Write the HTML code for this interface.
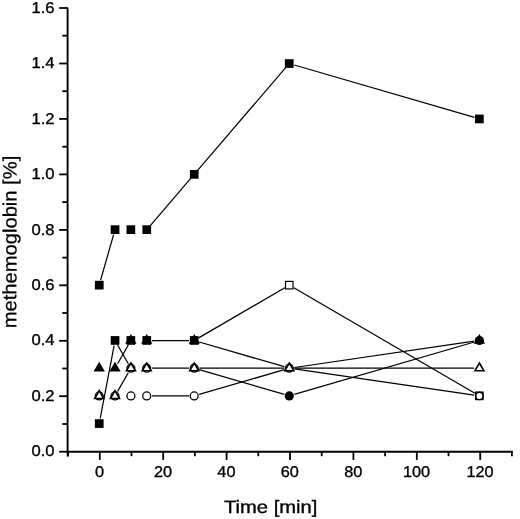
<!DOCTYPE html><html><head><meta charset="utf-8"><title>methemoglobin</title><style>html,body{margin:0;padding:0;background:#fff}body{width:520px;height:519px;overflow:hidden}</style></head><body>
<svg width="520" height="519" viewBox="0 0 520 519" style="display:block">
<rect width="520" height="519" fill="#fff"/>
<g stroke="#000" stroke-width="1.9" fill="none" stroke-linecap="butt">
<path d="M67.6 7.4 V456.6"/>
<path d="M66.7 451.7 H512.8"/>
</g>
<g stroke="#000" stroke-width="1.8" fill="none">
<path d="M59.2 451.7 H67.5"/>
<path d="M62.3 424.0 H67.5"/>
<path d="M59.2 396.2 H67.5"/>
<path d="M62.3 368.5 H67.5"/>
<path d="M59.2 340.8 H67.5"/>
<path d="M62.3 313.0 H67.5"/>
<path d="M59.2 285.3 H67.5"/>
<path d="M62.3 257.6 H67.5"/>
<path d="M59.2 229.9 H67.5"/>
<path d="M62.3 202.1 H67.5"/>
<path d="M59.2 174.4 H67.5"/>
<path d="M62.3 146.7 H67.5"/>
<path d="M59.2 118.9 H67.5"/>
<path d="M62.3 91.2 H67.5"/>
<path d="M59.2 63.5 H67.5"/>
<path d="M62.3 35.7 H67.5"/>
<path d="M59.2 8.0 H67.5"/>
<path d="M68.1 451.7 V456.2"/>
<path d="M99.8 451.7 V459.9"/>
<path d="M131.5 451.7 V456.2"/>
<path d="M163.2 451.7 V459.9"/>
<path d="M194.9 451.7 V456.2"/>
<path d="M226.6 451.7 V459.9"/>
<path d="M258.3 451.7 V456.2"/>
<path d="M290.0 451.7 V459.9"/>
<path d="M321.7 451.7 V456.2"/>
<path d="M353.4 451.7 V459.9"/>
<path d="M385.1 451.7 V456.2"/>
<path d="M416.8 451.7 V459.9"/>
<path d="M448.5 451.7 V456.2"/>
<path d="M480.2 451.7 V459.9"/>
<path d="M511.9 451.7 V456.2"/>
</g>
<g text-rendering="geometricPrecision" font-family="Liberation Sans, Arial, Helvetica, sans-serif" font-size="15.6" fill="#000" stroke="#000" stroke-width="0.35">
<text x="54.6" y="456.3" text-anchor="end" textLength="23.1" lengthAdjust="spacingAndGlyphs">0.0</text>
<text x="54.6" y="400.8" text-anchor="end" textLength="23.1" lengthAdjust="spacingAndGlyphs">0.2</text>
<text x="54.6" y="345.4" text-anchor="end" textLength="23.1" lengthAdjust="spacingAndGlyphs">0.4</text>
<text x="54.6" y="289.9" text-anchor="end" textLength="23.1" lengthAdjust="spacingAndGlyphs">0.6</text>
<text x="54.6" y="234.5" text-anchor="end" textLength="23.1" lengthAdjust="spacingAndGlyphs">0.8</text>
<text x="54.6" y="179.0" text-anchor="end" textLength="23.1" lengthAdjust="spacingAndGlyphs">1.0</text>
<text x="54.6" y="123.5" text-anchor="end" textLength="23.1" lengthAdjust="spacingAndGlyphs">1.2</text>
<text x="54.6" y="68.1" text-anchor="end" textLength="23.1" lengthAdjust="spacingAndGlyphs">1.4</text>
<text x="54.6" y="12.6" text-anchor="end" textLength="23.1" lengthAdjust="spacingAndGlyphs">1.6</text>
<text x="99.6" y="476.8" text-anchor="middle" textLength="9.1" lengthAdjust="spacingAndGlyphs">0</text>
<text x="163.0" y="476.8" text-anchor="middle" textLength="18.15" lengthAdjust="spacingAndGlyphs">20</text>
<text x="226.4" y="476.8" text-anchor="middle" textLength="18.15" lengthAdjust="spacingAndGlyphs">40</text>
<text x="289.8" y="476.8" text-anchor="middle" textLength="18.15" lengthAdjust="spacingAndGlyphs">60</text>
<text x="353.2" y="476.8" text-anchor="middle" textLength="18.15" lengthAdjust="spacingAndGlyphs">80</text>
<text x="416.6" y="476.8" text-anchor="middle" textLength="27.2" lengthAdjust="spacingAndGlyphs">100</text>
<text x="480.0" y="476.8" text-anchor="middle" textLength="27.2" lengthAdjust="spacingAndGlyphs">120</text>
</g>
<g text-rendering="geometricPrecision" font-family="Liberation Sans, Arial, Helvetica, sans-serif" fill="#000" stroke="#000" stroke-width="0.35">
<text x="270.7" y="513.4" font-size="17.9" text-anchor="middle" textLength="93.4" lengthAdjust="spacingAndGlyphs">Time [min]</text>
<text transform="translate(16.4 242) rotate(-89.97)" font-size="19.3" stroke-width="0.25" text-anchor="middle" textLength="172.5" lengthAdjust="spacingAndGlyphs">methemoglobin [%]</text>
</g>
<g stroke="#000" stroke-width="1.25" fill="none">
<path d="M100.6 280.1 L113.6 234.7"/>
<path d="M150.1 225.8 L190.9 178.2"/>
<path d="M197.6 170.4 L285.9 67.4"/>
<path d="M294.3 65.0 L474.4 117.4"/>
<path d="M100.2 418.5 L114.1 345.6"/>
<path d="M117.6 345.0 L128.3 363.7"/>
<path d="M117.6 363.7 L128.3 345.0"/>
<path d="M117.6 391.4 L128.3 372.7"/>
<path d="M151.9 340.5 L189.0 340.5"/>
<path d="M151.9 368.2 L189.0 368.2"/>
<path d="M151.9 395.9 L189.0 395.9"/>
<path d="M198.7 337.9 L284.8 287.7"/>
<path d="M199.2 342.0 L284.3 366.7"/>
<path d="M199.4 368.2 L284.1 368.2"/>
<path d="M199.2 369.7 L284.3 394.4"/>
<path d="M199.2 394.4 L284.3 369.7"/>
<path d="M293.8 287.7 L474.9 393.3"/>
<path d="M294.4 367.5 L474.2 341.2"/>
<path d="M294.5 368.2 L474.2 368.2"/>
<path d="M294.4 368.9 L474.2 395.2"/>
<path d="M294.3 394.4 L474.4 342.0"/>
</g>
<rect x="94.9" y="280.8" width="8.7" height="8.7" fill="#000"/>
<rect x="110.7" y="225.3" width="8.7" height="8.7" fill="#000"/>
<rect x="126.5" y="225.3" width="8.7" height="8.7" fill="#000"/>
<rect x="142.4" y="225.3" width="8.7" height="8.7" fill="#000"/>
<rect x="189.9" y="170.0" width="8.7" height="8.7" fill="#000"/>
<rect x="284.9" y="59.2" width="8.7" height="8.7" fill="#000"/>
<rect x="475.0" y="114.6" width="8.7" height="8.7" fill="#000"/>
<rect x="94.9" y="419.2" width="8.7" height="8.7" fill="#000"/>
<rect x="110.7" y="336.1" width="8.7" height="8.7" fill="#000"/>
<rect x="126.5" y="336.1" width="8.7" height="8.7" fill="#000"/>
<rect x="142.4" y="336.1" width="8.7" height="8.7" fill="#000"/>
<rect x="189.9" y="336.1" width="8.7" height="8.7" fill="#000"/>
<path d="M130.9 334.0 L136.5 343.8 L125.2 343.8 Z" fill="#000"/>
<path d="M146.7 334.0 L152.4 343.8 L141.1 343.8 Z" fill="#000"/>
<path d="M194.2 334.0 L199.9 343.8 L188.6 343.8 Z" fill="#000"/>
<path d="M99.2 361.7 L104.9 371.5 L93.5 371.5 Z" fill="#000"/>
<path d="M115.0 361.7 L120.7 371.5 L109.4 371.5 Z" fill="#000"/>
<circle cx="99.2" cy="395.9" r="3.9499999999999997" fill="#fff" stroke="#000" stroke-width="1.3"/>
<circle cx="115.0" cy="395.9" r="3.9499999999999997" fill="#fff" stroke="#000" stroke-width="1.3"/>
<circle cx="130.9" cy="395.9" r="3.9499999999999997" fill="#fff" stroke="#000" stroke-width="1.3"/>
<circle cx="146.7" cy="395.9" r="3.9499999999999997" fill="#fff" stroke="#000" stroke-width="1.3"/>
<circle cx="194.2" cy="395.9" r="3.9499999999999997" fill="#fff" stroke="#000" stroke-width="1.3"/>
<circle cx="130.9" cy="368.2" r="3.9499999999999997" fill="#fff" stroke="#000" stroke-width="1.3"/>
<circle cx="146.7" cy="368.2" r="3.9499999999999997" fill="#fff" stroke="#000" stroke-width="1.3"/>
<circle cx="194.2" cy="368.2" r="3.9499999999999997" fill="#fff" stroke="#000" stroke-width="1.3"/>
<circle cx="289.3" cy="368.2" r="3.9499999999999997" fill="#fff" stroke="#000" stroke-width="1.3"/>
<path d="M99.2 390.7 L103.7 398.5 L94.7 398.5 Z" fill="#fff" stroke="#000" stroke-width="1.6" stroke-linejoin="miter"/>
<path d="M115.0 390.7 L119.5 398.5 L110.5 398.5 Z" fill="#fff" stroke="#000" stroke-width="1.6" stroke-linejoin="miter"/>
<path d="M130.9 363.0 L135.4 370.8 L126.4 370.8 Z" fill="#fff" stroke="#000" stroke-width="1.6" stroke-linejoin="miter"/>
<path d="M146.7 363.0 L151.2 370.8 L142.2 370.8 Z" fill="#fff" stroke="#000" stroke-width="1.6" stroke-linejoin="miter"/>
<path d="M194.2 363.0 L198.7 370.8 L189.7 370.8 Z" fill="#fff" stroke="#000" stroke-width="1.6" stroke-linejoin="miter"/>
<path d="M289.3 363.0 L293.8 370.8 L284.8 370.8 Z" fill="#fff" stroke="#000" stroke-width="1.6" stroke-linejoin="miter"/>
<path d="M479.4 363.0 L483.9 370.8 L474.9 370.8 Z" fill="#fff" stroke="#000" stroke-width="1.6" stroke-linejoin="miter"/>
<rect x="285.5" y="281.4" width="7.5" height="7.5" fill="#fff" stroke="#000" stroke-width="1.2"/>
<rect x="475.6" y="392.1" width="7.5" height="7.5" fill="#fff" stroke="#000" stroke-width="1.2"/>
<circle cx="479.4" cy="395.9" r="3.7" fill="none" stroke="#000" stroke-width="1.4"/>
<circle cx="289.3" cy="395.9" r="4.6" fill="#000"/>
<circle cx="479.4" cy="340.5" r="4.6" fill="#000"/>
<path d="M479.4 334.0 L485.0 343.8 L473.7 343.8 Z" fill="#000"/>
</svg>
</body></html>
